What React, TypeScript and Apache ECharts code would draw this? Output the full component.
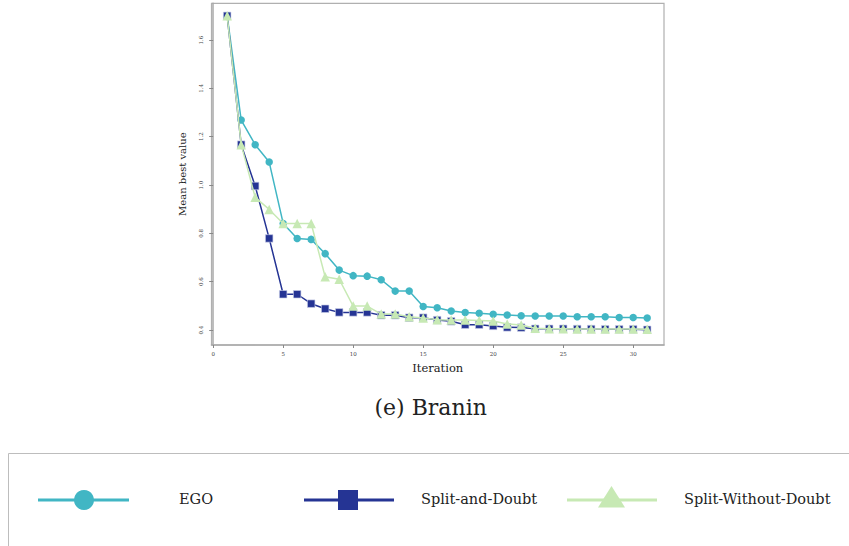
import React, { useEffect, useRef } from "react";
import * as echarts from "echarts";

const iterations = [1, 2, 3, 4, 5, 6, 7, 8, 9, 10, 11, 12, 13, 14, 15, 16, 17, 18, 19, 20, 21, 22, 23, 24, 25, 26, 27, 28, 29, 30, 31];
const egoValues = [1.70, 1.269, 1.167, 1.095, 0.841, 0.779, 0.775, 0.716, 0.648, 0.625, 0.623, 0.608, 0.561, 0.561, 0.497, 0.492, 0.479, 0.472, 0.469, 0.465, 0.462, 0.459, 0.458, 0.458, 0.458, 0.455, 0.455, 0.455, 0.452, 0.452, 0.450];
const splitAndDoubtValues = [1.70, 1.167, 0.996, 0.779, 0.548, 0.548, 0.509, 0.488, 0.473, 0.473, 0.473, 0.461, 0.461, 0.451, 0.451, 0.441, 0.436, 0.422, 0.422, 0.417, 0.411, 0.410, 0.405, 0.405, 0.405, 0.404, 0.404, 0.403, 0.403, 0.403, 0.401];
const splitWithoutDoubtValues = [1.70, 1.167, 0.949, 0.899, 0.841, 0.841, 0.841, 0.620, 0.610, 0.499, 0.499, 0.466, 0.466, 0.455, 0.450, 0.443, 0.441, 0.441, 0.439, 0.437, 0.425, 0.421, 0.407, 0.405, 0.405, 0.404, 0.404, 0.404, 0.404, 0.404, 0.403];
const xTicks = [0, 5, 10, 15, 20, 25, 30];
const yTicks = [0.4, 0.6, 0.8, 1.0, 1.2, 1.4, 1.6];
const seriesNames = ["EGO", "Split-and-Doubt", "Split-Without-Doubt"];
const caption = "(e) Branin";

const COLORS = ["#41b6c4", "#253494", "#c7e9b4"];
const SERIF = "DejaVu Serif";

export default function App() {
  const ref = useRef<HTMLDivElement>(null);
  useEffect(() => {
    if (!ref.current) return;
    const chart = echarts.init(ref.current, null, { renderer: "svg" });
    const mk = (vals: number[]) => iterations.map((it, i) => [it, vals[i]]);
    const legendY = 500;
    const textTitle = (text: string, left: number, top: number, size: number) => ({
      text,
      left,
      top,
      padding: 0,
      textStyle: { fontFamily: SERIF, fontSize: size, fontWeight: "normal", color: "#222" },
    });
    chart.setOption({
      animation: false,
      title: [
        textTitle(caption, 374.5, 396, 22),
        textTitle(seriesNames[0], 179, 491.5, 14.5),
        textTitle(seriesNames[1], 421, 491.5, 14.5),
        textTitle(seriesNames[2], 684, 491.5, 14.5),
      ],
      grid: {
        left: 211.5,
        right: 185,
        top: 3.3,
        bottom: 201,
        show: true,
        borderColor: "#b0b0b0",
        borderWidth: 1.2,
      },
      xAxis: {
        type: "value",
        min: -0.12,
        max: 32.2,
        name: "Iteration",
        nameLocation: "middle",
        nameGap: 15,
        nameTextStyle: { fontFamily: SERIF, fontSize: 11.5, color: "#222" },
        axisLine: { show: true, lineStyle: { color: "#a8a8a8", width: 1.5 } },
        axisTick: { show: true, length: 3, customValues: xTicks, lineStyle: { color: "#888" } },
        axisLabel: { customValues: xTicks, fontSize: 5.5, fontFamily: SERIF, color: "#444", margin: 6 },
        splitLine: { show: false },
      },
      yAxis: {
        type: "value",
        min: 0.338,
        max: 1.752,
        name: "Mean best value",
        nameLocation: "middle",
        nameRotate: 90,
        nameGap: 24,
        nameTextStyle: { fontFamily: SERIF, fontSize: 10, color: "#222" },
        axisLine: { show: true, lineStyle: { color: "#a8a8a8", width: 1.5 } },
        axisTick: { show: true, length: 4, customValues: yTicks, lineStyle: { color: "#888" } },
        axisLabel: {
          customValues: yTicks,
          rotate: 90,
          fontSize: 5.5,
          fontFamily: SERIF,
          color: "#444",
          margin: 8,
          formatter: (v: number) => v.toFixed(1),
        },
        splitLine: { show: false },
      },
      series: [
        {
          name: seriesNames[0],
          type: "line",
          data: mk(egoValues),
          symbol: "circle",
          symbolSize: 7.5,
          z: 2,
          lineStyle: { color: COLORS[0], width: 1.5 },
          itemStyle: { color: COLORS[0] },
        },
        {
          name: seriesNames[1],
          type: "line",
          data: mk(splitAndDoubtValues),
          symbol: "rect",
          symbolSize: 7.5,
          z: 3,
          lineStyle: { color: COLORS[1], width: 1.5 },
          itemStyle: { color: COLORS[1], borderColor: "rgba(200,205,230,0.8)", borderWidth: 0.8 },
        },
        {
          name: seriesNames[2],
          type: "line",
          data: mk(splitWithoutDoubtValues),
          symbol: "triangle",
          symbolSize: 9.5,
          z: 4,
          lineStyle: { color: COLORS[2], width: 1.5 },
          itemStyle: { color: COLORS[2] },
        },
      ],
      graphic: [
        {
          type: "rect",
          shape: { x: 8.5, y: 453.5, width: 900, height: 200 },
          style: { fill: "none", stroke: "#bdbdbd", lineWidth: 1 },
        },
        { type: "line", shape: { x1: 38, y1: legendY, x2: 129, y2: legendY }, style: { stroke: COLORS[0], lineWidth: 3 } },
        { type: "circle", shape: { cx: 84, cy: legendY, r: 10 }, style: { fill: COLORS[0] } },
        { type: "line", shape: { x1: 304, y1: legendY, x2: 394, y2: legendY }, style: { stroke: COLORS[1], lineWidth: 3 } },
        { type: "rect", shape: { x: 338, y: 490, width: 20, height: 20 }, style: { fill: COLORS[1] } },
        { type: "line", shape: { x1: 567, y1: legendY, x2: 657, y2: legendY }, style: { stroke: COLORS[2], lineWidth: 3 } },
        { type: "polygon", shape: { points: [[611.5, 486], [598, 507.5], [625, 507.5]] }, style: { fill: COLORS[2] } },
      ],
    });
    return () => chart.dispose();
  }, []);
  return (
    <div
      ref={ref}
      style={{ position: "fixed", left: 0, top: 0, width: 849, height: 546, background: "#fff" }}
    />
  );
}
